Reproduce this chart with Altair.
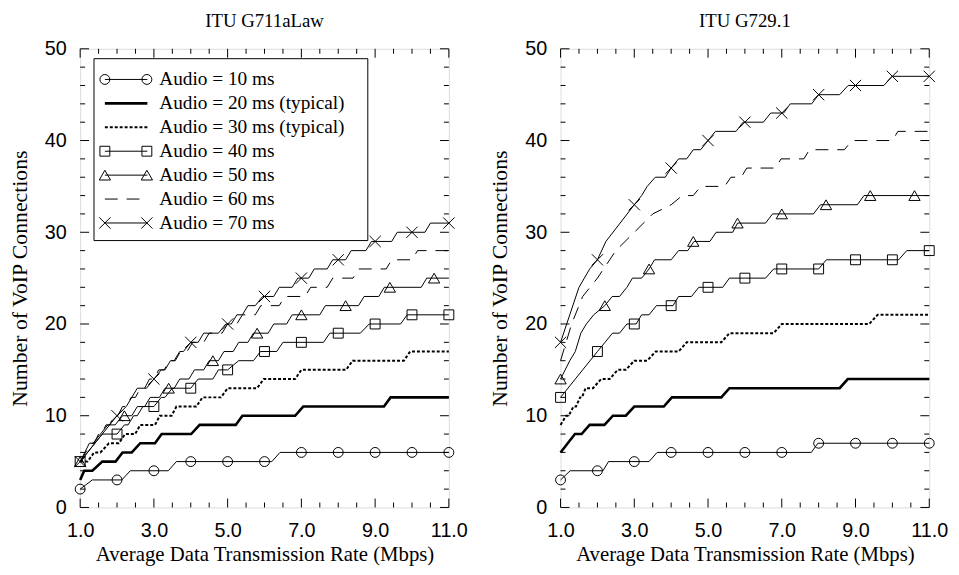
import altair as alt
import pandas as pd

SERIF = "Liberation Serif"
SANS = "Liberation Sans"

panel_titles = ["ITU G711aLaw", "ITU G729.1"]
x_title = "Average Data Transmission Rate (Mbps)"
y_title = "Number of VoIP Connections"
series = ["Audio = 10 ms", "Audio = 20 ms (typical)", "Audio = 30 ms (typical)",
          "Audio = 40 ms", "Audio = 50 ms", "Audio = 60 ms", "Audio = 70 ms"]

x_major = [1, 3, 5, 7, 9, 11]
x_minor = [1.5, 2, 2.5, 3.5, 4, 4.5, 5.5, 6, 6.5, 7.5, 8, 8.5, 9.5, 10, 10.5]
y_major = [0, 10, 20, 30, 40, 50]
y_minor = [2, 4, 6, 8, 12, 14, 16, 18, 22, 24, 26, 28, 32, 34, 36, 38, 42, 44, 46, 48]

# ---------------- ITU G711aLaw : line vertices ----------------
g711_10_x = [1, 1.33, 2.13, 2.36, 3.39, 3.61, 6.2, 6.42, 11]
g711_10_y = [2, 3, 3, 4, 4, 5, 5, 6, 6]
g711_20_x = [1, 1.11, 1.33, 1.6, 1.96, 2.15, 2.4, 2.63, 3.03, 3.21, 4.01, 4.24, 5.22, 5.4, 6.83, 7.05, 9.24, 9.42, 11]
g711_20_y = [3, 4, 4, 5, 5, 6, 6, 7, 7, 8, 8, 9, 9, 10, 10, 11, 11, 12, 12]
g711_30_x = [1, 1.2, 1.38, 1.55, 1.78, 2.05, 2.22, 2.49, 2.63, 3.03, 3.16, 3.48, 3.61, 4.15, 4.32, 4.82, 5.0, 5.8, 5.98, 6.83, 7.0, 8.21, 8.39, 9.78, 9.95, 11]
g711_30_y = [5, 5, 6, 6, 7, 7, 8, 8, 9, 9, 10, 10, 11, 11, 12, 12, 13, 13, 14, 14, 15, 15, 16, 16, 17, 17]
g711_40_x = [1, 1.6, 2.0, 2.2, 2.3, 2.45, 2.55, 2.7, 3.0, 3.2, 3.3, 3.5, 4.0, 4.2, 4.6, 4.75, 5.0, 5.3, 5.7, 5.89, 6.33, 6.5, 7.6, 7.77, 8.6, 8.84, 9.69, 9.87, 11]
g711_40_y = [5, 8, 8, 9, 9, 10, 10, 11, 11, 12, 12, 13, 13, 14, 14, 15, 15, 16, 16, 17, 17, 18, 18, 19, 19, 20, 20, 21, 21]
g711_50_x = [1, 1.25, 1.35, 1.55, 1.75, 1.95, 2.15, 2.4, 2.55, 2.75, 2.9, 3.15, 3.3, 3.55, 3.7, 3.95, 4.1, 4.35, 4.5, 4.75, 4.9, 5.15, 5.3, 5.55, 5.7, 6.1, 6.25, 6.6, 6.75, 7.5, 7.65, 8.55, 8.7, 9.1, 9.25, 10.25, 10.4, 11]
g711_50_y = [5, 7, 7, 8, 9, 9, 10, 10, 11, 11, 12, 12, 13, 13, 14, 14, 15, 15, 16, 16, 17, 17, 18, 18, 19, 19, 20, 20, 21, 21, 22, 22, 23, 23, 24, 24, 25, 25]
g711_60_x = [1, 1.3, 1.38, 1.5, 1.58, 1.7, 1.8, 1.92, 2.02, 2.15, 2.25, 2.38, 2.5, 2.63, 2.75, 2.88, 3.0, 3.13, 3.28, 3.42, 3.58, 3.72, 3.9, 4.05, 4.35, 4.5, 4.85, 5.0, 5.25, 5.4, 5.75, 5.9, 6.4, 6.55, 7.1, 7.25, 7.7, 7.85, 8.4, 8.55, 9.3, 9.45, 10.0, 10.15, 11]
g711_60_y = [5, 7, 7, 8, 8, 9, 9, 10, 10, 11, 11, 12, 12, 13, 13, 14, 14, 15, 15, 16, 16, 17, 17, 18, 18, 19, 19, 20, 20, 21, 21, 22, 22, 23, 23, 24, 24, 25, 25, 26, 26, 27, 27, 28, 28]
g711_70_x = [1, 2, 2.25, 2.4, 2.55, 2.8, 3, 3.2, 3.3, 3.45, 3.55, 3.7, 3.8, 4, 4.2, 4.35, 4.75, 4.95, 5.1, 5.25, 5.4, 5.55, 5.75, 5.95, 6.25, 6.4, 6.75, 6.9, 7.2, 7.35, 7.7, 7.85, 8.2, 8.35, 8.75, 8.9, 9.45, 9.6, 10.35, 10.5, 11]
g711_70_y = [5, 10, 11, 12, 13, 13, 14, 15, 15, 16, 16, 17, 17, 18, 18, 19, 19, 20, 20, 21, 21, 22, 22, 23, 23, 24, 24, 25, 25, 26, 26, 27, 27, 28, 28, 29, 29, 30, 30, 31, 31]

# ---------------- ITU G729.1 : line vertices ----------------
g729_10_x = [1, 1.26, 2.15, 2.3, 3.4, 3.62, 7.8, 7.98, 11]
g729_10_y = [3, 4, 4, 5, 5, 6, 6, 7, 7]
g729_20_x = [1, 1.39, 1.57, 1.79, 2.19, 2.42, 2.77, 3.0, 3.8, 4.02, 5.36, 5.58, 8.57, 8.79, 11]
g729_20_y = [6, 8, 8, 9, 9, 10, 10, 11, 11, 12, 12, 13, 13, 14, 14]
g729_30_x = [1, 1.15, 1.22, 1.35, 1.42, 1.53, 1.58, 1.68, 1.88, 2.1, 2.33, 2.55, 2.77, 3.0, 3.35, 3.58, 4.2, 4.42, 5.36, 5.58, 6.78, 7.0, 9.37, 9.6, 11]
g729_30_y = [9, 10, 10, 11, 11, 12, 12, 13, 13, 14, 14, 15, 15, 16, 16, 17, 17, 18, 18, 19, 19, 20, 20, 21, 21]
g729_40_x = [1, 2, 2.41, 2.6, 2.8, 3.05, 3.2, 3.4, 3.6, 4.05, 4.2, 4.55, 4.75, 5.4, 5.58, 6.56, 6.78, 8.0, 8.21, 10.17, 10.39, 11]
g729_40_y = [12, 17, 19, 19, 20, 20, 21, 21, 22, 22, 23, 23, 24, 24, 25, 25, 26, 26, 27, 27, 28, 28]
g729_50_x = [1, 1.25, 1.4, 1.55, 1.7, 1.9, 2.2, 2.4, 2.6, 2.8, 2.95, 3.2, 3.4, 3.55, 4.0, 4.2, 4.45, 4.62, 5.05, 5.22, 5.67, 5.8, 6.56, 6.75, 7.86, 8.05, 9.05, 9.23, 11]
g729_50_y = [14, 16, 17, 19, 20, 21, 22, 23, 23, 24, 25, 25, 26, 27, 27, 28, 28, 29, 29, 30, 30, 31, 31, 32, 32, 33, 33, 34, 34]
g729_60_x = [1, 1.3, 1.6, 2.0, 2.5, 3.0, 3.5, 4.0, 4.3, 4.6, 4.8, 5.45, 5.62, 5.9, 6.05, 6.83, 6.98, 7.6, 7.75, 8.7, 8.9, 10.0, 10.15, 11]
g729_60_y = [16, 20, 23, 25, 28, 30, 32, 33, 34, 34, 35, 35, 36, 36, 37, 37, 38, 38, 39, 39, 40, 40, 41, 41]
g729_70_x = [1, 1.25, 1.5, 1.79, 2, 2.23, 3, 3.2, 3.35, 3.57, 3.84, 4, 4.2, 4.42, 4.6, 4.8, 5, 5.2, 5.76, 5.95, 6.5, 6.7, 7.05, 7.23, 7.81, 8.0, 8.57, 8.8, 9.77, 9.99, 11]
g729_70_y = [18, 21, 24, 26, 27, 29, 33, 34, 35, 36, 36, 37, 38, 38, 39, 39, 40, 41, 41, 42, 42, 43, 43, 44, 44, 45, 45, 46, 46, 47, 47]

# ---------------- marker positions ----------------
mark_int_x = [1, 2, 3, 4, 5, 6, 7, 8, 9, 10, 11]
mark_tri_x = [1, 2.2, 3.4, 4.6, 5.8, 7.0, 8.2, 9.4, 10.6]
g711_10_m = [2, 3, 4, 5, 5, 5, 6, 6, 6, 6, 6]
g711_40_m = [5, 8, 11, 13, 15, 17, 18, 19, 20, 21, 21]
g711_50_m = [5, 10, 13, 16, 19, 21, 22, 24, 25]
g711_70_m = [5, 10, 14, 18, 20, 23, 25, 27, 29, 30, 31]
g729_10_m = [3, 4, 5, 6, 6, 6, 6, 7, 7, 7, 7]
g729_40_m = [12, 17, 20, 22, 24, 25, 26, 26, 27, 27, 28]
g729_50_m = [14, 22, 26, 29, 31, 32, 33, 34, 34]
g729_70_m = [18, 27, 33, 37, 40, 42, 43, 45, 46, 47, 47]

X_PATH = "M-1,-1L1,1M-1,1L1,-1"
STYLE = {
    series[0]: dict(w=1, dash=None, shape="circle", size=100),
    series[1]: dict(w=2.6, dash=None, shape=None, size=0),
    series[2]: dict(w=2, dash=[3, 2], shape=None, size=0),
    series[3]: dict(w=1, dash=None, shape="square", size=100),
    series[4]: dict(w=1, dash=None, shape="triangle-up", size=130),
    series[5]: dict(w=1, dash=[13, 9], shape=None, size=0),
    series[6]: dict(w=1, dash=None, shape=X_PATH, size=130),
}

W, H = 373, 464
xscale = alt.Scale(domain=[1, 11], nice=False, zero=False, padding=0)
yscale = alt.Scale(domain=[0, 50], nice=False, zero=False, padding=0)
xaxis = alt.Axis(values=x_major, format=".1f", title=x_title, grid=False, ticks=False,
                 tickSize=0, domain=False, labelFont=SANS, labelFontSize=20,
                 labelFlush=False, labelOverlap=False,
                 labelPadding=13, titleFont=SERIF, titleFontSize=21,
                 titleFontWeight="normal", titlePadding=4, labelColor="black",
                 titleColor="black")
yaxis = alt.Axis(values=y_major, format="d", title=y_title, grid=False, ticks=False,
                 tickSize=0, domain=False, labelFont=SANS, labelFontSize=20,
                 labelFlush=False, labelOverlap=False,
                 labelPadding=14, titleFont=SERIF, titleFontSize=22,
                 titleFontWeight="normal", titlePadding=13, labelColor="black",
                 titleColor="black")


def X():
    return alt.X("x:Q", scale=xscale, axis=xaxis)


def Y():
    return alt.Y("y:Q", scale=yscale, axis=yaxis)


def tick_layers():
    out = []
    for vals, ln in ((x_major, 9), (x_minor, 5)):
        d = pd.DataFrame({"x": vals})
        out.append(alt.Chart(d).mark_rule(color="black", strokeWidth=1).encode(
            x=X(), y=alt.value(H), y2=alt.value(H - ln)))
        out.append(alt.Chart(d).mark_rule(color="black", strokeWidth=1).encode(
            x=X(), y=alt.value(0), y2=alt.value(ln)))
    for vals, ln in ((y_major, 9), (y_minor, 5)):
        d = pd.DataFrame({"y": vals})
        out.append(alt.Chart(d).mark_rule(color="black", strokeWidth=1).encode(
            y=Y(), x=alt.value(0), x2=alt.value(ln)))
        out.append(alt.Chart(d).mark_rule(color="black", strokeWidth=1).encode(
            y=Y(), x=alt.value(W), x2=alt.value(W - ln)))
    return out


def legend_layers():
    out = []
    box = pd.DataFrame({"k": [0]})
    out.append(alt.Chart(box).mark_rect(fill="white", stroke="black", strokeWidth=1).encode(
        x=alt.value(14), x2=alt.value(291), y=alt.value(10), y2=alt.value(194)))
    y0, dy = 31, 24.2
    for i, name in enumerate(series):
        st = STYLE[name]
        py = y0 + i * dy
        row = pd.DataFrame({"label": [name], "py": [py]})
        mk = dict(color="black", strokeWidth=st["w"])
        if st["dash"]:
            mk["strokeDash"] = st["dash"]
        out.append(alt.Chart(row).mark_rule(**mk).encode(
            x=alt.value(25), x2=alt.value(68), y=alt.Y("py:Q", scale=None)))
        if st["shape"]:
            pts = pd.DataFrame({"px": [25, 67.5], "py": [py, py]})
            out.append(alt.Chart(pts).mark_point(
                shape=st["shape"], filled=False, color="black", size=st["size"],
                strokeWidth=1, opacity=1).encode(
                x=alt.X("px:Q", scale=None), y=alt.Y("py:Q", scale=None)))
        out.append(alt.Chart(row).mark_text(
            align="left", baseline="middle", font=SERIF, fontSize=19.5, color="black").encode(
            x=alt.value(80), y=alt.Y("py:Q", scale=None), text="label:N"))
    return out


def panel(lines, markers, title, legend):
    layers = []
    for name in series:
        xs, ys = lines[name]
        st = STYLE[name]
        df = pd.DataFrame({"x": xs, "y": ys, "i": list(range(len(xs)))})
        mk = dict(color="black", strokeWidth=st["w"])
        if st["dash"]:
            mk["strokeDash"] = st["dash"]
        layers.append(alt.Chart(df).mark_line(**mk).encode(x=X(), y=Y(), order="i:Q"))
        if name in markers:
            mx, my = markers[name]
            dm = pd.DataFrame({"x": mx, "y": my})
            layers.append(alt.Chart(dm).mark_point(
                shape=st["shape"], filled=False, color="black", size=st["size"],
                strokeWidth=1, opacity=1).encode(x=X(), y=Y()))
    layers += tick_layers()
    if legend:
        layers += legend_layers()
    return alt.layer(*layers).properties(
        width=W, height=H,
        title=alt.TitleParams(text=title, font=SERIF, fontSize=19, fontWeight="normal",
                              color="black", anchor="middle", offset=8))


left = panel(
    {series[0]: (g711_10_x, g711_10_y), series[1]: (g711_20_x, g711_20_y),
     series[2]: (g711_30_x, g711_30_y), series[3]: (g711_40_x, g711_40_y),
     series[4]: (g711_50_x, g711_50_y), series[5]: (g711_60_x, g711_60_y),
     series[6]: (g711_70_x, g711_70_y)},
    {series[0]: (mark_int_x, g711_10_m), series[3]: (mark_int_x, g711_40_m),
     series[4]: (mark_tri_x, g711_50_m), series[6]: (mark_int_x, g711_70_m)},
    panel_titles[0], True)

right = panel(
    {series[0]: (g729_10_x, g729_10_y), series[1]: (g729_20_x, g729_20_y),
     series[2]: (g729_30_x, g729_30_y), series[3]: (g729_40_x, g729_40_y),
     series[4]: (g729_50_x, g729_50_y), series[5]: (g729_60_x, g729_60_y),
     series[6]: (g729_70_x, g729_70_y)},
    {series[0]: (mark_int_x, g729_10_m), series[3]: (mark_int_x, g729_40_m),
     series[4]: (mark_tri_x, g729_50_m), series[6]: (mark_int_x, g729_70_m)},
    panel_titles[1], False)

chart = alt.hconcat(left, right, spacing=20).properties(
    padding={"left": 0, "top": 0, "right": 2, "bottom": 2}
).configure_view(stroke="black", strokeWidth=1.5).configure(background="white")

chart.save("out.html", embed_options={"renderer": "svg", "actions": False})
